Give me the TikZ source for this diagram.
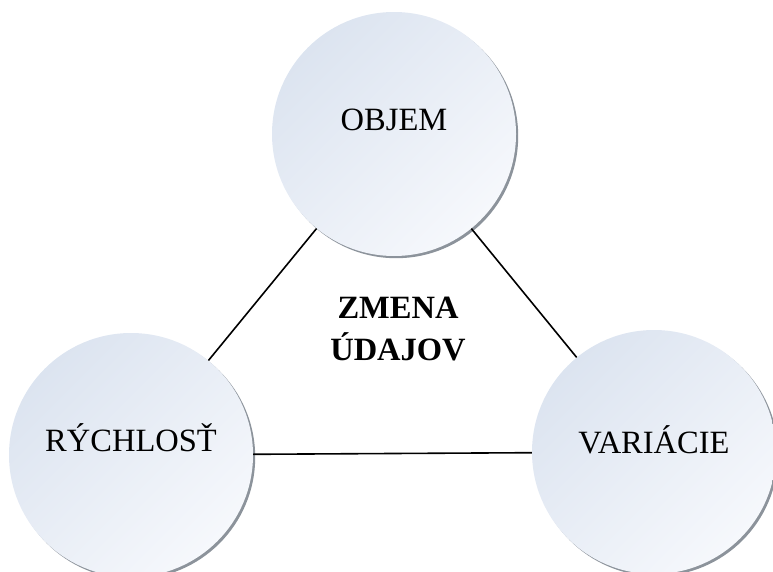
\documentclass[tikz,border=0pt]{standalone}
\usepackage{fontspec}
\setmainfont{Liberation Serif}
\usetikzlibrary{positioning,shadows}
\definecolor{kruhA}{HTML}{DCE4F0}
\definecolor{kruhB}{HTML}{F6F8FC}
\definecolor{kruhTien}{HTML}{8C939B}
\begin{document}
\begin{tikzpicture}
                [x=1pt,y=1pt,on grid,
                kruh/.style={circle,minimum size=244pt,inner sep=0pt,
                  top color=kruhA,bottom color=kruhB,shading angle=45,
                  drop shadow={shadow xshift=2.2pt,shadow yshift=-2.2pt,fill=kruhTien,opacity=1}},
                napis/.style={font=\fontsize{32.5}{39}\selectfont},
                ciara/.style={line width=1.6pt}]
                \useasboundingbox (0,0) rectangle (773,-572);
                \node[kruh,label={[napis,yshift=14pt]center:OBJEM}] (objem) at (394,-134){};
                \node[kruh,label={[napis,yshift=17pt]center:RÝCHLOSŤ}] (rychlost)[below left=321pt and 263pt of objem]{};
                \node[kruh,label={[napis,yshift=12pt]center:VARIÁCIE}] (variacie)[below right=318pt and 260pt of objem]{};
                \node[napis,font=\fontsize{32.5}{42}\selectfont\bfseries,align=center] (zmena) at (398,-329){ZMENA\\ÚDAJOV};
                \path[ciara](objem) edge (rychlost)
                            edge (variacie)
                        (rychlost) edge (variacie);
            \end{tikzpicture}
\end{document}
